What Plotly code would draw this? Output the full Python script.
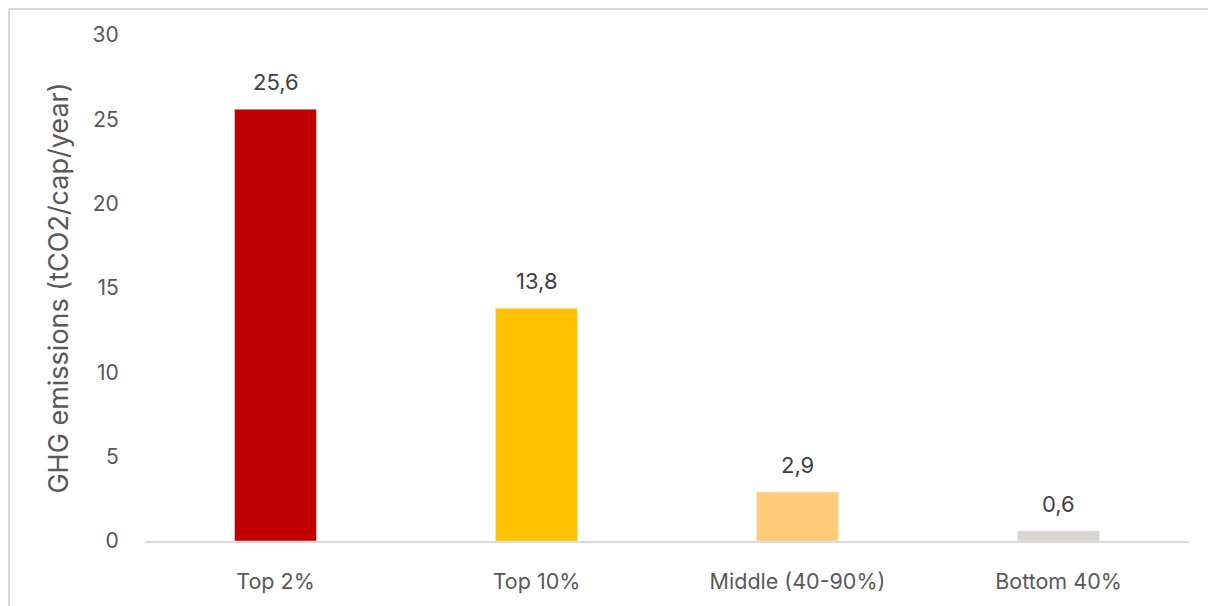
import plotly.graph_objects as go

categories = ["Top 2%", "Top 10%", "Middle (40-90%)", "Bottom 40%"]
values = [25.6, 13.8, 2.9, 0.6]
labels = ["25,6", "13,8", "2,9", "0,6"]
colors = ["#C00000", "#FFC000", "#FFCC77", "#D9D5CF"]
y_ticks = [0, 5, 10, 15, 20, 25, 30]

# page has an 8px body margin, so the figure is shifted by 8px
W, H = 1208, 598
ml, mt = 137, 27
pw, ph = 1044, 506
mr, mb = W - ml - pw, H - mt - ph

fig = go.Figure(go.Bar(
    x=categories, y=values, marker_color=colors, width=0.314,
    hoverinfo="x+y",
))

for c, v, t in zip(categories, values, labels):
    fig.add_annotation(x=c, y=v, text=t, showarrow=False, yanchor="middle",
                       yshift=27, font=dict(size=22, color="#404040"))

fig.update_layout(
    width=W, height=H,
    margin=dict(l=ml, r=mr, t=mt, b=mb),
    paper_bgcolor="white", plot_bgcolor="white",
    font=dict(family="Inter, Lato, sans-serif", size=21, color="#595959"),
    showlegend=False,
    xaxis=dict(showline=True, linecolor="#D9D9D9", linewidth=2, ticks="outside",
               ticklen=20, tickcolor="rgba(0,0,0,0)",
               tickfont=dict(size=21.5, color="#595959"), showgrid=False),
    yaxis=dict(range=[0, 30], tickvals=y_ticks, showgrid=False, zeroline=False,
               showline=False, ticks="outside", ticklen=21, tickcolor="rgba(0,0,0,0)",
               tickfont=dict(size=21, color="#595959"),
               title=dict(text="GHG emissions (tCO2/cap/year)", standoff=16,
                          font=dict(size=27, color="#595959"))),
)

x0 = (1 - ml) / pw
y1 = (H - mb - 1) / ph
fig.add_shape(type="line", xref="paper", yref="paper", x0=x0, x1=(W - ml + 5) / pw,
              y0=y1, y1=y1, line=dict(color="#D9D9D9", width=2))
fig.add_shape(type="line", xref="paper", yref="paper", x0=x0, x1=x0,
              y0=y1, y1=-(mb + 5) / ph, line=dict(color="#D9D9D9", width=2))

fig.write_html("out.html")
